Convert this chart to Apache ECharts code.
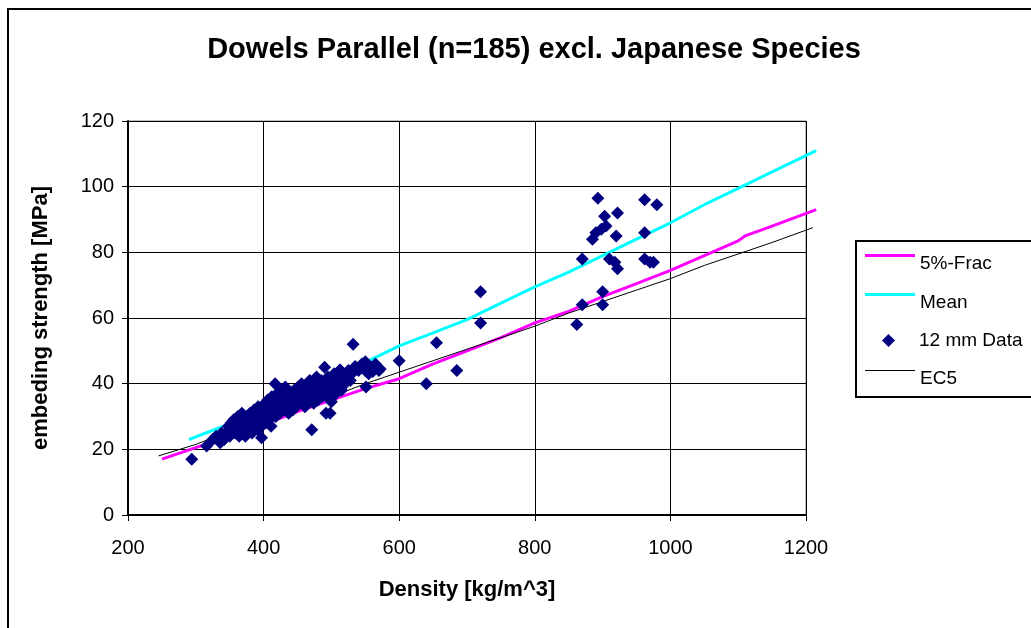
<!DOCTYPE html>
<html>
<head>
<meta charset="utf-8">
<script src="https://cdn.jsdelivr.net/npm/echarts@6/dist/echarts.min.js"></script>
<style>
html,body{margin:0;padding:0;background:#fff;}
#chart{width:1031px;height:628px;}
</style>
</head>
<body>
<div id="chart"></div>
<script>
// ---- data ----
const titleText = 'Dowels Parallel (n=185) excl. Japanese Species';
const xTicks = [200, 400, 600, 800, 1000, 1200];
const yTicks = [0, 20, 40, 60, 80, 100, 120];
const lineXEnd = 1215; // fitted lines run slightly past the last tick

const frac5 = [[250,17],[300,20.5],[350,24],[400,27.5],[450,31.5],[500,35],[550,38.5],[600,41.5],[650,46],[700,50],[750,54],[800,58.5],[850,62],[900,66.5],[950,70.5],[1000,74.5],[1050,79],[1100,83.5],[1110,85],[1150,88],[1215,93]];
const mean = [[290,23],[340,27],[400,31.5],[450,36],[500,41.5],[550,46.5],[600,51.5],[650,55.5],[700,59.5],[750,64.5],[800,69.5],[850,74],[900,79],[950,84],[1000,89],[1050,94.5],[1100,99.5],[1150,104.5],[1215,111]];
const ec5 = [[245,18],[300,21.5],[350,25.5],[400,29],[450,32.5],[500,36],[550,40],[600,43.5],[650,47],[700,50.5],[750,54],[800,57.5],[850,61.5],[900,65],[950,68.5],[1000,72],[1050,76],[1100,79.5],[1150,83],[1210,87.5]];

const data12mm = [
 [294,17],[316,21],[336,22],[325,23],[330,24],[338,25],[342,23],[397,23.5],[417,40],[471,26],[490,45],[532,52],[551,39],[498,31],[500,34.5],[513,38.7],
 [345,25],[348,27],[350,24],[352,28],[355,26],[356,29],[358,25],[360,27],[362,30],[364,24],[365,28],[367,26],[368,31],[370,29],[372,27],[373,24],[375,30],[377,28],[378,26],[380,31],[382,29],[383,25],[385,27],[386,32],[388,30],[390,28],[391,26],[392,33],[394,31],[395,29],[397,27],[399,32],[400,30],[402,34],[403,28],[405,31],[406,35],[408,29],[410,33],[411,27],[412,36],[414,31],[415,34],[418,30],[420,37],[421,33],[423,35],[424,31],[426,38],[428,34],[429,32],[430,36],[432,39],[433,33],[435,35],[437,31],[438,37],[440,34],[442,36],[443,32],[445,38],[446,35],[448,33],[450,37],[451,39],[453,34],[455,36],[456,40],[458,35],[460,38],[461,33],[463,37],[465,39],[466,35],[468,41],[470,36],[472,38],[474,34],[475,40],[477,37],[478,42],[480,35],[482,39],[483,37],[485,41],[486,36],[488,38],[491,40],[492,31],[494,37],[495,42],[497,39],[498,35],[500,41],[502,38],[504,43],[505,40],[507,37],[508,42],[510,39],[512,44],[514,41],[515,38],[517,43],[520,40],[522,42],[525,44],[528,41],[530,43],[535,45],[540,44],[545,46],[550,44],[555,43],[560,45],[565,46],[570,44],[513,44.2],[535,45.2],[550,46.7],[561,43.7],[567,45.2],[572,44.5],
 [600,47],[640,40],[655,52.5],[685,44],[720,68],[720,58.5],
 [862,58],[870,64],[900,64],[900,68],[870,78],[910,78],[918,77],[922,75],[962,78],[970,77],[975,77],
 [885,84],[890,86],[898,87],[905,88],[920,85],[962,86],[903,91],[922,92],[893,96.5],[962,96],[980,94.5]
];

const chart = echarts.init(document.getElementById('chart'), null, {renderer:'canvas'});
const FONT = 'Liberation Sans, Arial, sans-serif';
const legendText = {fontFamily: FONT, fontSize: 19, color: '#000'};

const GRID_LEFT = 128, GRID_TOP = 121, GRID_W = 678, GRID_H = 394;
const X_MIN = 200, X_MAX = 1200;

// legend icon: a bar at the top of the icon box, so the line sits above the text centre
function barIcon(th, h) {
  return 'path://M0,0L50,0L50,' + th + 'L0,' + th + 'Z M0,' + (h - 0.01) + 'L0.01,' + (h - 0.01) + 'L0.01,' + h + 'L0,' + h + 'Z';
}
function lineLegend(name, top, th, h, color) {
  return {
    orient: 'vertical', left: 865, top: top, padding: 0,
    itemWidth: 50, itemHeight: h, symbolKeepAspect: false,
    textStyle: legendText,
    data: [{name: name, icon: barIcon(th, h), itemStyle: {color: color, borderWidth: 0}, lineStyle: {width: 0}}]
  };
}

chart.setOption({
  animation: false,
  backgroundColor: '#fff',
  title: {
    text: titleText,
    left: 529, top: 30, textAlign: 'center',
    textStyle: {fontFamily: FONT, fontSize: 29, fontWeight: 'bold', color: '#000'}
  },
  grid: [
    {left: GRID_LEFT, top: GRID_TOP, width: GRID_W, height: GRID_H, show: true, borderColor: '#808080', borderWidth: 1, backgroundColor: 'transparent'},
    {left: GRID_LEFT, top: GRID_TOP, width: GRID_W * (lineXEnd - X_MIN) / (X_MAX - X_MIN), height: GRID_H, show: false}
  ],
  legend: [
    lineLegend('5%-Frac', 254, 3, 19, '#FF00FF'),
    lineLegend('Mean', 293, 3, 19, '#00FFFF'),
    {
      orient: 'vertical', left: 882, top: 331, padding: 0,
      itemWidth: 13, itemHeight: 13,
      textStyle: Object.assign({}, legendText, {padding: [0, 0, 0, 19]}),
      data: [{name: '12 mm Data', icon: 'diamond', itemStyle: {color: '#000080'}}]
    },
    lineLegend('EC5', 369, 1, 17, '#000000')
  ],
  xAxis: [{
    gridIndex: 0, type: 'value', min: X_MIN, max: X_MAX, interval: 200,
    name: 'Density [kg/m^3]', nameLocation: 'middle', nameGap: 64,
    nameTextStyle: {fontFamily: FONT, fontSize: 22, fontWeight: 'bold', color: '#000'},
    axisLine: {show: true, onZero: false, lineStyle: {color: '#000', width: 2}},
    axisTick: {show: true, inside: false, length: 6, lineStyle: {color: '#000', width: 1}},
    axisLabel: {fontFamily: FONT, fontSize: 20, color: '#000', margin: 23, formatter: v => String(v)},
    splitLine: {show: true, lineStyle: {color: '#000', width: 1}}
  }, {
    gridIndex: 1, type: 'value', min: X_MIN, max: lineXEnd, show: false
  }],
  yAxis: [{
    gridIndex: 0, type: 'value', min: 0, max: 120, interval: 20,
    name: 'embeding strength [MPa]', nameLocation: 'middle', nameGap: 76, nameRotate: 90,
    nameTextStyle: {fontFamily: FONT, fontSize: 22, fontWeight: 'bold', color: '#000'},
    axisLine: {show: true, onZero: false, lineStyle: {color: '#000', width: 2}},
    axisTick: {show: true, inside: false, length: 6, lineStyle: {color: '#000', width: 1}},
    axisLabel: {fontFamily: FONT, fontSize: 20, color: '#000', margin: 14, formatter: v => String(v)},
    splitLine: {show: true, lineStyle: {color: '#000', width: 1}}
  }, {
    gridIndex: 1, type: 'value', min: 0, max: 120, show: false
  }],
  graphic: [
    {type: 'rect', shape: {x: 8, y: 9, width: 1100, height: 700}, style: {fill: 'none', stroke: '#000', lineWidth: 2}, z: 100, silent: true},
    {type: 'rect', shape: {x: 856, y: 241, width: 300, height: 156}, style: {fill: 'none', stroke: '#000', lineWidth: 2}, z: 100, silent: true}
  ],
  series: [
    {name: '5%-Frac', type: 'line', data: frac5, xAxisIndex: 1, yAxisIndex: 1, showSymbol: false, symbol: 'none',
     lineStyle: {color: '#FF00FF', width: 3}, itemStyle: {color: '#FF00FF'}, z: 2},
    {name: 'Mean', type: 'line', data: mean, xAxisIndex: 1, yAxisIndex: 1, showSymbol: false, symbol: 'none',
     lineStyle: {color: '#00FFFF', width: 3}, itemStyle: {color: '#00FFFF'}, z: 2},
    {name: '12 mm Data', type: 'scatter', data: data12mm, xAxisIndex: 0, yAxisIndex: 0, symbol: 'diamond', symbolSize: 13,
     itemStyle: {color: '#000080', opacity: 1}, z: 5},
    {name: 'EC5', type: 'line', data: ec5, xAxisIndex: 1, yAxisIndex: 1, showSymbol: false, symbol: 'none',
     lineStyle: {color: '#000', width: 1}, itemStyle: {color: '#000'}, z: 3}
  ]
});
</script>
</body>
</html>
